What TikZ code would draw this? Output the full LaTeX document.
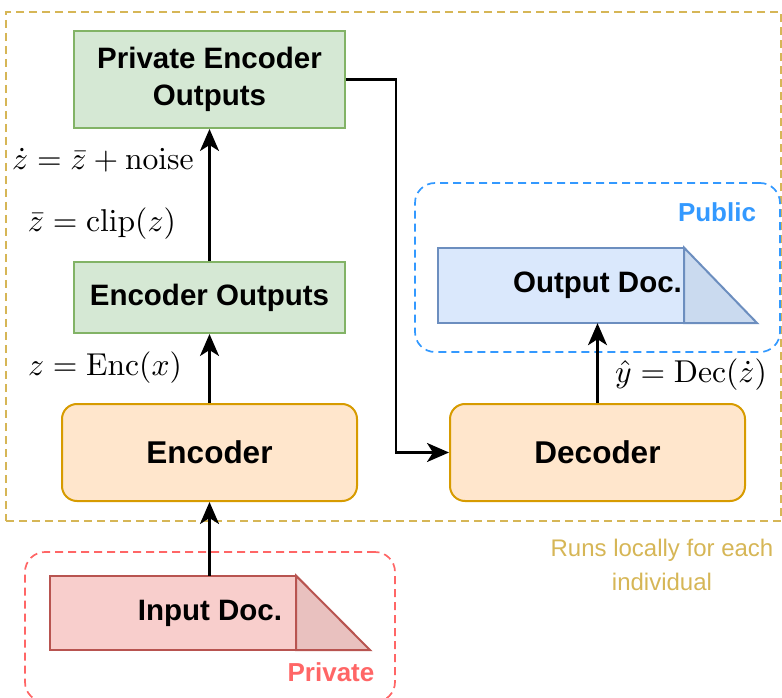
\documentclass[tikz,border=0pt]{standalone}
\usepackage[no-math]{fontspec}
\setmainfont{Liberation Sans}
\usetikzlibrary{arrows.meta,backgrounds}

\definecolor{grnfill}{HTML}{D5E8D4}
\definecolor{grnline}{HTML}{82B366}
\definecolor{orgfill}{HTML}{FFE6CC}
\definecolor{orgline}{HTML}{D79B00}
\definecolor{blufill}{HTML}{DAE8FC}
\definecolor{blufold}{HTML}{CADAEF}
\definecolor{bluline}{HTML}{6C8EBF}
\definecolor{redfill}{HTML}{F8CECC}
\definecolor{redfold}{HTML}{E9C1BF}
\definecolor{redline}{HTML}{B85450}
\definecolor{golddash}{HTML}{D6B656}
\definecolor{pubdash}{HTML}{3399FF}
\definecolor{privdash}{HTML}{FF6666}

\begin{document}
\begin{tikzpicture}[x=1pt,y=-1pt,
  every node/.style={inner sep=0pt},
  region/.style={line width=1.7pt, dash pattern=on 8pt off 5pt},
  outbox/.style={draw=grnline, fill=grnfill, line width=2pt,
    minimum width=271pt, align=center,
    font=\fontsize{29.5}{37.5}\selectfont\bfseries},
  procbox/.style={draw=orgline, fill=orgfill, line width=2pt,
    rounded corners=15pt, minimum width=295pt, minimum height=97pt,
    font=\fontsize{31.5}{38}\selectfont\bfseries},
  docbox/.style={minimum height=75pt, font=\fontsize{29.5}{37}\selectfont\bfseries},
  docline/.style={line width=2pt, line join=miter},
  mathlbl/.style={font=\fontsize{10}{12}\selectfont, scale=3.16},
  arr/.style={line width=2.6pt, -{Stealth[length=22pt,width=19pt,inset=6pt]}},
  tagtext/.style={font=\fontsize{26}{32}\selectfont\bfseries}
]
\useasboundingbox (0,0) rectangle (782,698);

% dashed regions
\node[region, draw=golddash, minimum width=775pt, minimum height=509pt] (local) at (393.5,266.5) {};
\node[region, draw=pubdash, rounded corners=20pt, minimum width=365pt, minimum height=169pt] (public) at (597.5,267.5) {};
\node[region, draw=privdash, rounded corners=20pt, minimum width=370pt, minimum height=150pt] (private) at (210,627) {};

% encoder side
\node[outbox, minimum height=97pt] (peo) at (209.5,79.5) {Private Encoder\\Outputs};
\node[outbox, minimum height=71pt] (eo) at (209.5,297.5) {Encoder Outputs};
\node[procbox] (enc) at (209.5,452.5) {Encoder};
\node[procbox] (dec) at (597.5,452.5) {Decoder};

% documents
\node[docbox, minimum width=319pt] (outdoc) at (597.5,285.5) {Output Doc.};
\node[docbox, minimum width=320pt, minimum height=74pt] (indoc) at (210,613) {Input Doc.};
\begin{scope}[on background layer]
  \draw[docline, draw=bluline, fill=blufill] (outdoc.north west) rectangle ([xshift=-73pt]outdoc.south east);
  \draw[docline, draw=bluline, fill=blufold] ([xshift=-73pt]outdoc.north east) -- (outdoc.south east) -- ([xshift=-73pt]outdoc.south east) -- cycle;
  \draw[docline, draw=redline, fill=redfill] (indoc.north west) rectangle ([xshift=-74pt]indoc.south east);
  \draw[docline, draw=redline, fill=redfold] ([xshift=-74pt]indoc.north east) -- (indoc.south east) -- ([xshift=-74pt]indoc.south east) -- cycle;
\end{scope}

% connectors
\draw[arr] (enc.south |- indoc.north) -- (enc.south);
\draw[arr] (enc.north) -- (eo.south);
\draw[arr] (eo.north) -- (peo.south);
\draw[arr] (peo.east) -- ++(50pt,0) |- (dec.west);
\draw[arr] (dec.north) -- (dec.north |- outdoc.south);

% formulas
\node[mathlbl] (lblnoise) at (103,160) {$\dot z = \bar z + \mathrm{noise}$};
\node[mathlbl] (lblclip) at (102,224) {$\bar z = \mathrm{clip}(z)$};
\node[mathlbl] (lblenc) at (105,368) {$z = \mathrm{Enc}(x)$};
\node[mathlbl] (lbldec) at (691,375) {$\hat y = \mathrm{Dec}(\dot z)$};

% region captions
\node[tagtext, text=pubdash] (pubtag) at (717,212) {Public};
\node[tagtext, text=privdash] (privtag) at (331,672) {Private};
\node[text=golddash, align=center, font=\fontsize{24}{34}\selectfont] (localtag) at (662,565) {Runs locally for each\\individual};
\end{tikzpicture}
\end{document}
